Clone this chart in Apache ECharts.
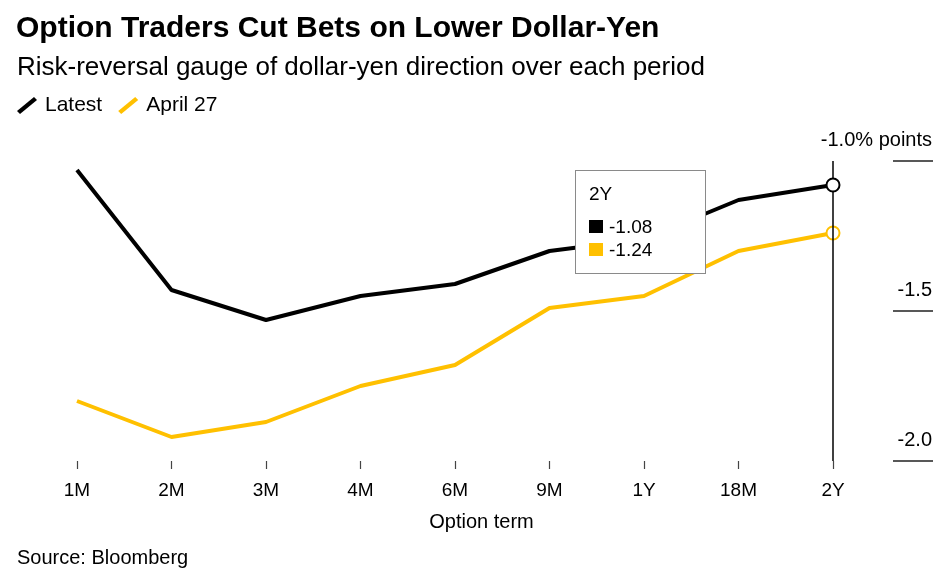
<!DOCTYPE html>
<html>
<head>
<meta charset="utf-8">
<script src="https://cdn.jsdelivr.net/npm/echarts@6/dist/echarts.min.js"></script>
<style>
html,body{margin:0;padding:0;background:#fff;}
#chart{width:943px;height:573px;}
</style>
</head>
<body>
<div id="chart"></div>
<script>
const categories = ['1M', '2M', '3M', '4M', '6M', '9M', '1Y', '18M', '2Y'];
const latest = [-1.03, -1.43, -1.53, -1.45, -1.41, -1.30, -1.26, -1.13, -1.08];
const april27 = [-1.80, -1.92, -1.87, -1.75, -1.68, -1.49, -1.45, -1.30, -1.24];
const yTicks = [-2.0, -1.5, -1.0];
const seriesNames = ['Latest', 'April 27'];
const colors = ['#000000', '#FFC000'];

const FONT = "'Liberation Sans', Arial, Helvetica, sans-serif";
const lastIdx = categories.length - 1;

function buildData(values, color) {
  return values.map((v, i) => i === lastIdx
    ? { value: v, symbol: 'circle', symbolSize: 13,
        itemStyle: { color: '#ffffff', borderColor: color, borderWidth: 2 } }
    : { value: v, symbol: 'none' });
}

const chart = echarts.init(document.getElementById('chart'), null, { renderer: 'canvas' });

const option = {
  animation: false,
  backgroundColor: '#ffffff',
  textStyle: { fontFamily: FONT },
  title: [
    { text: 'Option Traders Cut Bets on Lower Dollar-Yen', left: 16, top: 14, padding: 0,
      textStyle: { fontFamily: FONT, fontSize: 30, fontWeight: 'bold', color: '#000' } },
    { text: 'Risk-reversal gauge of dollar-yen direction over each period', left: 17, top: 55, padding: 0,
      textStyle: { fontFamily: FONT, fontSize: 26, fontWeight: 'normal', color: '#000' } },
    { text: 'Source: Bloomberg', left: 17, top: 548, padding: 0,
      textStyle: { fontFamily: FONT, fontSize: 20, fontWeight: 'normal', color: '#000' } }
  ],
  legend: {
    left: 17, top: 95, padding: 0,
    itemWidth: 20, itemHeight: 17, itemGap: 16,
    icon: 'path://M0,14 L17,0 L20,3 L3,17 Z',
    itemStyle: { borderWidth: 0 },
    textStyle: { fontFamily: FONT, fontSize: 21, color: '#000', padding: [0, 0, 0, 3] },
    data: seriesNames
  },
  grid: { left: 77, right: 110, top: 161, bottom: 112, containLabel: false },
  tooltip: {
    trigger: 'item',
    triggerOn: 'none',
    alwaysShowContent: true,
    transitionDuration: 0,
    backgroundColor: '#ffffff',
    borderColor: '#8a8a8a',
    borderWidth: 1,
    padding: [11, 0, 12, 13],
    extraCssText: 'box-shadow:none;border-radius:0;',
    position: function () { return [575, 170]; },
    formatter: function (p) {
      const i = p.dataIndex;
      const vals = [latest[i], april27[i]];
      let html = '<div style="width:116px;font-family:' + FONT.replace(/'/g, '') + ';color:#000;">';
      html += '<div style="font-size:19px;line-height:24px;height:33px;">' + categories[i] + '</div>';
      vals.forEach((v, k) => {
        html += '<div style="font-size:19px;line-height:23px;height:23px;display:flex;align-items:center;">' +
          '<span style="display:inline-block;width:14px;height:13px;background:' + colors[k] + ';margin-right:6px;"></span>' +
          v.toFixed(2) + '</div>';
      });
      html += '</div>';
      return html;
    }
  },
  xAxis: {
    type: 'category',
    data: categories,
    boundaryGap: false,
    axisLine: { show: false },
    axisTick: { show: true, length: 8, lineStyle: { color: '#444', width: 1.2 } },
    axisLabel: { margin: 20, fontSize: 19, color: '#000', fontFamily: FONT },
    splitLine: { show: false },
    name: 'Option term',
    nameLocation: 'middle',
    nameGap: 51,
    nameTextStyle: { fontSize: 20, color: '#000', fontFamily: FONT, padding: [0, 0, 0, 53] }
  },
  yAxis: {
    type: 'value',
    position: 'right',
    offset: 100,
    min: -2.0,
    max: -1.0,
    interval: 0.5,
    axisLine: { show: false },
    axisTick: { show: true, inside: true, length: 40, lineStyle: { color: '#222', width: 1.5 } },
    splitLine: { show: false },
    axisLabel: {
      inside: true,
      margin: 1,
      verticalAlign: 'bottom',
      padding: [0, 0, 11, 0],
      fontSize: 20,
      color: '#000',
      fontFamily: FONT,
      formatter: function (v) {
        const s = v.toFixed(1);
        return Math.abs(v - yTicks[2]) < 1e-9 ? s + '% points' : s;
      }
    }
  },
  series: [
    {
      name: seriesNames[0], type: 'line', data: buildData(latest, colors[0]),
      color: colors[0], z: 5,
      lineStyle: { color: colors[0], width: 4 },
      emphasis: { disabled: true },
      markLine: {
        silent: true, symbol: 'none', animation: false,
        label: { show: false },
        lineStyle: { color: '#000', width: 1.5, type: 'solid' },
        data: [{ xAxis: categories[lastIdx] }]
      }
    },
    {
      name: seriesNames[1], type: 'line', data: buildData(april27, colors[1]),
      color: colors[1], z: 4,
      lineStyle: { color: colors[1], width: 4 },
      emphasis: { disabled: true }
    }
  ]
};

chart.setOption(option);
chart.dispatchAction({ type: 'showTip', seriesIndex: 0, dataIndex: lastIdx });
</script>
</body>
</html>
